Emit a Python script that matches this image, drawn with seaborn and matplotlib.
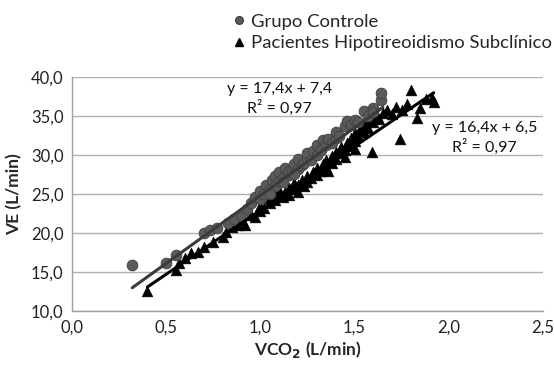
import numpy as np
import pandas as pd
import matplotlib
matplotlib.use("Agg")
import matplotlib.pyplot as plt
from matplotlib.ticker import FuncFormatter
from matplotlib.lines import Line2D
import seaborn as sns

# ---- data ----
ctrl_x = [0.32, 0.50, 0.55, 0.70, 0.73, 0.77, 0.83, 0.86, 0.90, 0.93, 0.95, 0.97,
          1.00, 1.00, 1.02, 1.03, 1.05, 1.06, 1.08, 1.08, 1.10, 1.10, 1.12, 1.13,
          1.15, 1.15, 1.17, 1.18, 1.20, 1.20, 1.22, 1.23, 1.25, 1.25, 1.27, 1.28,
          1.30, 1.30, 1.32, 1.33, 1.35, 1.36, 1.38, 1.40, 1.40, 1.42, 1.45, 1.46,
          1.48, 1.50, 1.52, 1.55, 1.57, 1.60, 1.60, 1.64, 1.64, 1.18, 1.12, 1.05]
ctrl_y = [15.9, 16.2, 17.2, 20.0, 20.4, 20.6, 21.3, 21.8, 22.2, 23.1, 23.8, 24.6,
          24.3, 25.4, 25.0, 26.2, 25.7, 26.8, 26.0, 27.3, 26.6, 27.8, 27.1, 28.3,
          27.4, 28.0, 27.9, 28.9, 28.2, 29.5, 28.7, 29.0, 29.6, 30.2, 29.4, 30.5,
          30.0, 31.3, 30.6, 31.9, 31.3, 32.0, 31.6, 32.2, 33.0, 32.5, 33.7, 34.3,
          33.9, 34.5, 34.2, 35.6, 35.0, 36.0, 35.5, 37.0, 38.0, 27.5, 26.5, 25.0]

pac_x = [0.40, 0.55, 0.57, 0.60, 0.63, 0.67, 0.70, 0.75, 0.80, 0.82, 0.85, 0.88,
         0.90, 0.92, 0.95, 0.97, 1.00, 1.00, 1.02, 1.05, 1.05, 1.08, 1.10, 1.10,
         1.12, 1.13, 1.15, 1.15, 1.18, 1.18, 1.20, 1.20, 1.22, 1.23, 1.25, 1.25,
         1.27, 1.28, 1.30, 1.30, 1.32, 1.33, 1.35, 1.35, 1.38, 1.38, 1.40, 1.40,
         1.42, 1.43, 1.45, 1.46, 1.48, 1.48, 1.50, 1.50, 1.52, 1.53, 1.55, 1.55,
         1.57, 1.58, 1.59, 1.60, 1.62, 1.63, 1.65, 1.67, 1.70, 1.72, 1.74, 1.75,
         1.78, 1.80, 1.83, 1.85, 1.88, 1.91, 1.92, 1.50, 1.45, 1.36]
pac_y = [12.5, 15.3, 16.2, 16.8, 17.4, 17.6, 18.2, 18.8, 19.5, 20.1, 20.8, 21.0,
         21.6, 21.0, 22.3, 22.0, 22.8, 23.5, 23.2, 23.8, 24.5, 24.2, 24.8, 25.5,
         24.6, 25.2, 25.8, 24.9, 25.6, 26.4, 26.1, 25.2, 26.8, 26.0, 26.5, 27.3,
         27.0, 27.8, 27.4, 28.3, 28.0, 28.8, 28.4, 29.4, 29.0, 29.9, 29.5, 30.4,
         30.2, 31.0, 30.6, 31.5, 31.2, 32.2, 31.8, 32.8, 32.5, 33.4, 33.0, 34.0,
         33.5, 34.5, 30.4, 34.2, 35.0, 34.6, 35.4, 35.8, 35.2, 36.2, 32.1, 35.8,
         36.5, 38.3, 34.7, 36.0, 37.2, 37.3, 36.8, 30.8, 29.8, 28.0]

# trendline coefficients (slope, intercept) and x-range as shown
ctrl_fit = [17.4, 7.4]
pac_fit = [16.4, 6.5]
ctrl_range = [0.32, 1.65]
pac_range = [0.40, 1.92]

labels = ["Grupo Controle", "Pacientes Hipotireoidismo Subclínico"]
eq_texts = ["y = 17,4x + 7,4\nR² = 0,97", "y = 16,4x + 6,5\nR² = 0,97"]
x_ticks = [0.0, 0.5, 1.0, 1.5, 2.0, 2.5]
y_ticks = [10, 15, 20, 25, 30, 35, 40]

# ---- plotting ----
sns.set_theme(style="white")
plt.rcParams['font.family'] = ['Lato', 'DejaVu Sans']

fig = plt.figure(figsize=(5.54, 3.67), dpi=100)
ax = fig.add_axes([0.130, 0.153, 0.850, 0.637])

df_c = pd.DataFrame({"x": ctrl_x, "y": ctrl_y})
df_p = pd.DataFrame({"x": pac_x, "y": pac_y})

sns.scatterplot(data=df_c, x="x", y="y", ax=ax, marker="o", s=60,
                color="#5a5a5a", edgecolor="#3f3f3f", linewidth=0.6, zorder=3)
sns.scatterplot(data=df_p, x="x", y="y", ax=ax, marker="^", s=60,
                color="black", edgecolor="black", linewidth=0.4, zorder=2)

lc = pd.DataFrame({"x": ctrl_range,
                   "y": [ctrl_fit[0] * v + ctrl_fit[1] for v in ctrl_range]})
lp = pd.DataFrame({"x": pac_range,
                   "y": [pac_fit[0] * v + pac_fit[1] for v in pac_range]})
sns.lineplot(data=lc, x="x", y="y", ax=ax, color="#3a3a3a", linewidth=2.2, zorder=4)
sns.lineplot(data=lp, x="x", y="y", ax=ax, color="black", linewidth=2.2, zorder=4)

ax.set_xlim(0, 2.5)
ax.set_ylim(10, 40)
ax.set_xticks(x_ticks)
ax.set_yticks(y_ticks)
fmt = FuncFormatter(lambda v, p: f"{v:.1f}".replace(".", ","))
ax.xaxis.set_major_formatter(fmt)
ax.yaxis.set_major_formatter(fmt)
ax.tick_params(axis="both", length=0, labelsize=12, colors="#222222", pad=6)
ax.yaxis.grid(True, color="#b0b0b0", linewidth=1.0)
ax.xaxis.grid(False)
for s in ["top", "right"]:
    ax.spines[s].set_visible(False)
for s in ["left", "bottom"]:
    ax.spines[s].set_color("#a0a0a0")
    ax.spines[s].set_linewidth(1.0)

ax.set_xlabel(r"VCO$_\mathbf{2}$ (L/min)", fontsize=12.5, fontweight="bold", labelpad=3)
ax.set_ylabel("VE (L/min)", fontsize=12.5, fontweight="bold", labelpad=6)

ax.text(1.10, 37.2, eq_texts[0], ha="center", va="center", fontsize=11.5,
        linespacing=1.35, color="#111111")
ax.text(2.19, 32.2, eq_texts[1], ha="center", va="center", fontsize=11.5,
        linespacing=1.35, color="#111111")

handles = [Line2D([], [], marker="o", linestyle="", markersize=5.5,
                  markerfacecolor="#5a5a5a", markeredgecolor="#3f3f3f"),
           Line2D([], [], marker="^", linestyle="", markersize=5.5,
                  markerfacecolor="black", markeredgecolor="black")]
fig.legend(handles, labels, loc="upper left", bbox_to_anchor=(0.4215, 0.962),
           frameon=False, fontsize=13.3, handletextpad=0.35, handlelength=0.6,
           labelspacing=0.3, borderaxespad=0, borderpad=0)

fig.savefig("out.png", dpi=100)
